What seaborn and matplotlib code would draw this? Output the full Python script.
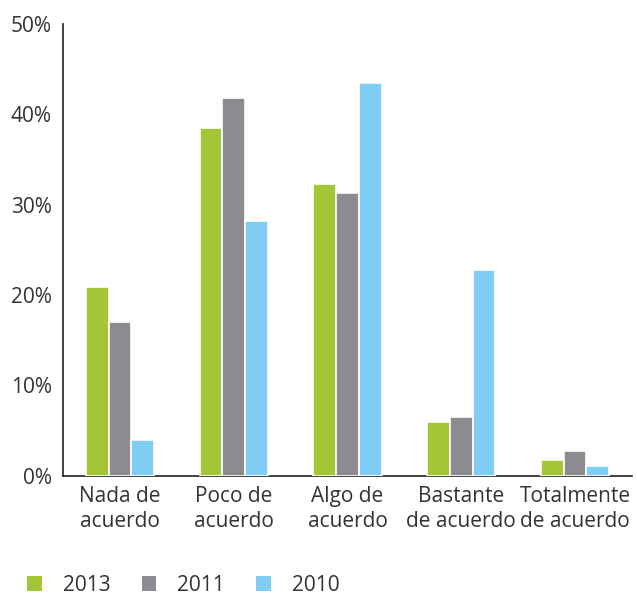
import pandas as pd
import matplotlib.pyplot as plt
import seaborn as sns
from matplotlib.patches import Patch
from matplotlib.ticker import FuncFormatter

# Data
categories = ['Nada de\nacuerdo', 'Poco de\nacuerdo', 'Algo de\nacuerdo',
              'Bastante\nde acuerdo', 'Totalmente\nde acuerdo']
years = ['2013', '2011', '2010']
values_2013 = [20.9, 38.5, 32.3, 6.0, 1.7]
values_2011 = [17.0, 41.8, 31.3, 6.5, 2.7]
values_2010 = [4.0, 28.2, 43.5, 22.8, 1.1]
colors = ['#a3c536', '#8c8b90', '#7dcef2']

df = pd.DataFrame({
    'cat': categories * 3,
    'year': [y for y in years for _ in categories],
    'pct': values_2013 + values_2011 + values_2010,
})

sns.set_style('white')
plt.rcParams['font.family'] = ['Open Sans', 'DejaVu Sans']
text_color = '#333333'
fs = 15

fig = plt.figure(figsize=(6.37, 5.97), dpi=100)
ax = fig.add_axes([0.099, 0.203, 0.893, 0.757])

sns.barplot(data=df, x='cat', y='pct', hue='year', hue_order=years,
            palette=colors, width=0.6, saturation=1, errorbar=None,
            edgecolor='white', linewidth=1.2, legend=False, ax=ax, zorder=3)

ax.set_xlim(-0.5, 4.5)
ax.set_ylim(0, 50)
ax.set_yticks([0, 10, 20, 30, 40, 50])
ax.yaxis.set_major_formatter(FuncFormatter(lambda v, p: f'{int(v)}%'))
ax.set_xlabel('')
ax.set_ylabel('')
for s in ['top', 'right']:
    ax.spines[s].set_visible(False)
for s in ['left', 'bottom']:
    ax.spines[s].set_color('#222222')
    ax.spines[s].set_linewidth(1.2)
    ax.spines[s].set_zorder(1)
ax.tick_params(axis='both', length=0, labelsize=fs, colors=text_color)
ax.tick_params(axis='x', pad=7)
ax.tick_params(axis='y', pad=8)
for lbl in ax.get_xticklabels():
    lbl.set_linespacing(1.3)

handles = [Patch(facecolor=c, edgecolor='none') for c in colors]
fig.legend(handles, years, loc='center left', bbox_to_anchor=(0.043, 0.02),
           ncol=3, frameon=False, fontsize=fs, handlelength=0.7, handleheight=0.7,
           columnspacing=1.5, handletextpad=1.0, borderpad=0, borderaxespad=0,
           labelcolor=text_color)

fig.savefig('out.png', dpi=100)
